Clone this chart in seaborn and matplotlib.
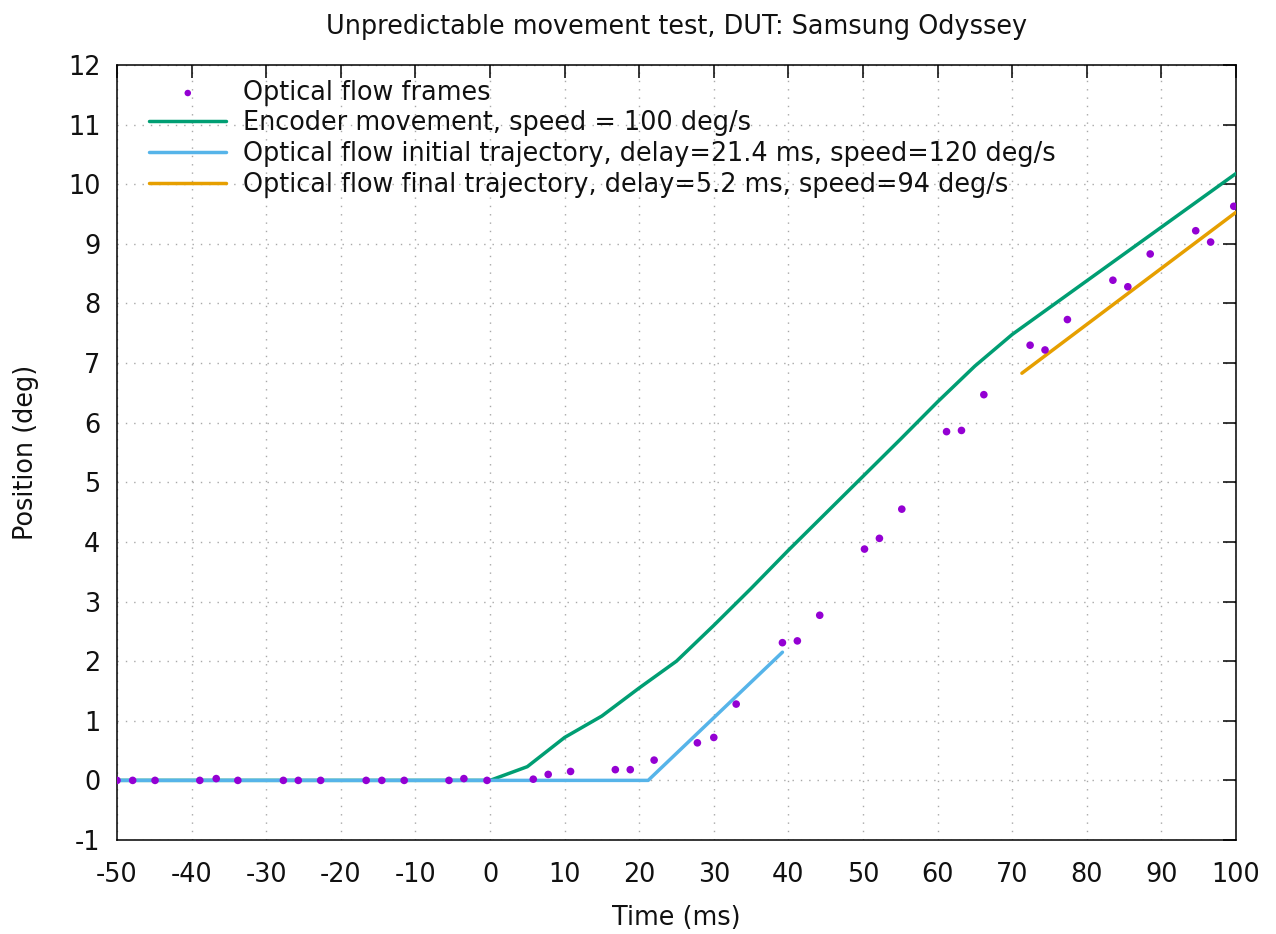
import numpy as np
import pandas as pd
import matplotlib
matplotlib.use("Agg")
import matplotlib.pyplot as plt
import seaborn as sns

# optical flow frames (time ms, position deg)
frame_t = [-50, -47.9, -44.9, -38.9, -36.7, -33.8, -27.7, -25.7, -22.7,
           -16.6, -14.5, -11.5, -5.5, -3.5, -0.4,
           5.8, 7.8, 10.8, 16.8, 18.8, 22.0, 27.8, 30.0, 33.0,
           39.2, 41.2, 44.2, 50.2, 52.2, 55.2, 61.2, 63.2, 66.2,
           72.4, 74.4, 77.4, 83.5, 85.5, 88.5, 94.6, 96.6, 99.7]
frame_pos = [0, 0, 0, 0, 0.03, 0, 0, 0, 0,
             0, 0, 0, 0, 0.03, 0,
             0.02, 0.10, 0.15, 0.18, 0.18, 0.34, 0.63, 0.72, 1.28,
             2.31, 2.34, 2.77, 3.88, 4.06, 4.55, 5.85, 5.87, 6.47,
             7.30, 7.22, 7.73, 8.39, 8.28, 8.83, 9.22, 9.03, 9.63]

# encoder
enc_t = [-50, 0, 5, 10, 15, 20, 25, 30, 35, 40, 45, 50, 55, 60, 65, 70, 100]
enc_pos = [0, 0, 0.23, 0.72, 1.08, 1.55, 2.0, 2.6, 3.22, 3.86, 4.48, 5.1, 5.72,
           6.35, 6.95, 7.48, 10.18]

# fitted trajectories
init_t = [-50, 21.2, 39.2]
init_pos = [0, 0, 2.15]
final_t = [71.3, 100]
final_pos = [6.83, 9.53]

labels = ["Optical flow frames",
          "Encoder movement, speed = 100 deg/s",
          "Optical flow initial trajectory, delay=21.4 ms, speed=120 deg/s",
          "Optical flow final trajectory, delay=5.2 ms, speed=94 deg/s"]

xticks = np.arange(-50, 101, 10)
yticks = np.arange(-1, 13, 1)

sns.set_theme(style="white")
plt.rcParams['font.family'] = ['DejaVu Sans']
plt.rcParams['text.color'] = '#111111'
plt.rcParams['axes.labelcolor'] = '#111111'
FS = 18.4

fig = plt.figure(figsize=(12.76, 9.34), dpi=100)
ax = fig.add_axes([117 / 1276, 94 / 934, 1119 / 1276, 775 / 934])

df_frames = pd.DataFrame({'t': frame_t, 'pos': frame_pos})
sns.scatterplot(data=df_frames, x='t', y='pos', ax=ax, color='#9400D3', s=30,
                edgecolor='none', label=labels[0], zorder=4)
sns.lineplot(x=enc_t, y=enc_pos, ax=ax, color='#009E73', lw=2.5, label=labels[1],
             sort=False, zorder=3)
sns.lineplot(x=init_t, y=init_pos, ax=ax, color='#56B4E9', lw=2.5, label=labels[2],
             sort=False, zorder=3)
sns.lineplot(x=final_t, y=final_pos, ax=ax, color='#E69F00', lw=2.5, label=labels[3],
             sort=False, zorder=3)

ax.set_xlim(-50, 100)
ax.set_ylim(-1, 12)
ax.set_xticks(xticks)
ax.set_xticklabels([str(v) for v in xticks])
ax.set_yticks(yticks)
ax.set_yticklabels([str(v) for v in yticks])
ax.tick_params(direction='in', length=9.5, width=1.1, top=True, right=True,
               labelsize=FS, colors='black', labelcolor='#111111')
ax.tick_params(axis='x', pad=16)
ax.tick_params(axis='y', pad=12)
for sp in ax.spines.values():
    sp.set_color('black')
    sp.set_linewidth(1.1)
ax.grid(True, linestyle=(0, (1, 5)), color='#a8a8a8', linewidth=1)

ax.set_xlabel('Time (ms)', fontsize=FS, labelpad=12)
ax.set_ylabel('Position (deg)', fontsize=FS, labelpad=21)
ax.set_title('Unpredictable movement test, DUT: Samsung Odyssey', fontsize=FS, pad=22)

leg = ax.legend(loc='upper left', frameon=False, fontsize=FS, handlelength=3.0,
                handletextpad=0.66, labelspacing=0.18, borderaxespad=0, borderpad=0,
                bbox_to_anchor=(0.029, 0.981))
leg.legend_handles[0].set_sizes([22])

fig.savefig('out.png', dpi=100)
plt.close()
